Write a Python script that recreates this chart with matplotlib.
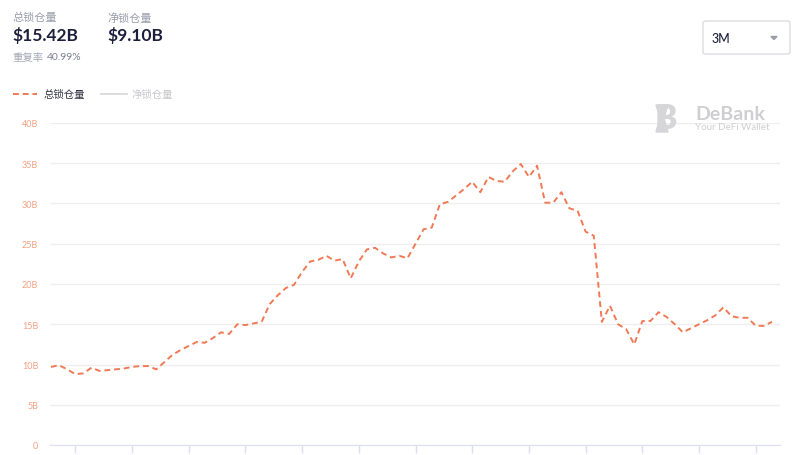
import matplotlib
matplotlib.use('Agg')

import matplotlib.pyplot as plt
from matplotlib.patches import FancyBboxPatch, Polygon

plt.rcParams['font.family'] = ['Lato', 'Noto Sans CJK SC', 'DejaVu Sans']

# daily total locked value, billions (3M window)
tvl = [9.7, 9.9, 9.4, 8.8, 8.9, 9.6, 9.2, 9.3, 9.4, 9.5,
       9.7, 9.8, 9.8, 9.4, 10.3, 11.2, 11.8, 12.3, 12.8, 12.7,
       13.3, 14.0, 13.8, 15.0, 14.9, 15.1, 15.3, 17.5, 18.6, 19.5,
       19.9, 21.5, 22.8, 23.0, 23.5, 22.9, 23.1, 20.7, 22.8, 24.3,
       24.5, 23.8, 23.3, 23.5, 23.2, 25.0, 26.8, 27.0, 29.9, 30.2,
       31.0, 31.8, 32.7, 31.4, 33.3, 32.8, 32.7, 34.0, 34.9, 33.3,
       34.7, 30.1, 30.1, 31.4, 29.4, 29.1, 26.5, 26.0, 15.3, 17.3,
       15.0, 14.4, 12.5, 15.4, 15.4, 16.5, 15.9, 15.0, 14.0, 14.5,
       15.0, 15.5, 16.1, 17.1, 16.0, 15.8, 15.8, 14.8, 14.8, 15.3]
days = list(range(len(tvl)))
week_ticks = list(range(3, 90, 7))
y_ticks = [0, 5, 10, 15, 20, 25, 30, 35, 40]
y_labels = ['0', '5B', '10B', '15B', '20B', '25B', '30B', '35B', '40B']

total_label = '总锁仓量'
net_label = '净锁仓量'
total_value = '$15.42B'
net_value = '$9.10B'
dup_label = '重复率'
dup_value = '40.99%'

orange = '#f07a55'
fig = plt.figure(figsize=(8, 4.56), dpi=100)
W, H = 800, 456

def fx(px):
    return px / W

def fy(py):
    return 1 - py / H

ax = fig.add_axes([fx(50), fy(446), fx(780) - fx(50), fy(124) - fy(446)])
ax.plot(days, tvl, color=orange, lw=1.4, ls=(0, (3, 2)), clip_on=False)
ax.set_xlim(-0.12, 89.99)
ax.set_ylim(0, 40)
ax.set_yticks(y_ticks)
ax.set_yticklabels(y_labels, fontsize=6.5, color='#f2a184')
ax.tick_params(axis='y', length=0, pad=8.5)
ax.set_xticks(week_ticks)
ax.set_xticklabels([])
ax.tick_params(axis='x', length=6, color='#dcdff2', width=1, direction='out')
for s in ['top', 'right', 'left']:
    ax.spines[s].set_visible(False)
ax.spines['bottom'].set_color('#dcdff2')
ax.grid(axis='y', color='#eeeeee', lw=1)
ax.set_axisbelow(True)

# header
fig.text(fx(12), fy(18), total_label, fontsize=8, color='#9a9cab', va='center')
fig.text(fx(12), fy(36), total_value, fontsize=12.5, color='#1b1f3b', weight='bold', va='center')
fig.text(fx(107), fy(18), net_label, fontsize=8, color='#9a9cab', va='center')
fig.text(fx(107), fy(36), net_value, fontsize=12.5, color='#1b1f3b', weight='bold', va='center')
fig.text(fx(12), fy(58), dup_label, fontsize=7.5, color='#a5a7b5', va='center')
fig.text(fx(47), fy(58), dup_value, fontsize=7.5, color='#7c7f90', va='center')

# legend
fig.add_artist(plt.Line2D([fx(13), fx(37)], [fy(95), fy(95)], color=orange, lw=1.4, ls=(0, (3, 2))))
fig.text(fx(44), fy(95), total_label, fontsize=7.5, color='#333344', va='center')
fig.add_artist(plt.Line2D([fx(101), fx(127)], [fy(95), fy(95)], color='#d5d5d8', lw=1.2))
fig.text(fx(132), fy(95), net_label, fontsize=7.5, color='#c8c8cc', va='center')

# range dropdown
box = FancyBboxPatch((fx(703), fy(55)), fx(87), fy(22) - fy(55),
                     boxstyle='round,pad=0,rounding_size=0.004',
                     transform=fig.transFigure, facecolor='white',
                     edgecolor='#dcdde3', lw=1)
fig.add_artist(box)
fig.text(fx(712), fy(39), '3M', fontsize=9, color='#1b1f3b', va='center', weight='medium')
fig.add_artist(Polygon([[fx(771), fy(37.5)], [fx(777), fy(37.5)], [fx(774), fy(40.5)]],
                       closed=True, transform=fig.transFigure, color='#9a9ca8'))

# watermark
fig.text(fx(655), fy(119), 'B', fontsize=24, color='#d6d6d8', weight='heavy', va='center')
fig.add_artist(Polygon([[fx(656), fy(106)], [fx(668), fy(106)], [fx(664), fy(119)], [fx(668), fy(133)], [fx(656), fy(133)], [fx(660), fy(119)]],
                       closed=True, transform=fig.transFigure, color='#d6d6d8'))
fig.text(fx(695), fy(114), 'DeBank', fontsize=14, color='#cfcfd2', weight='bold', va='center')
fig.text(fx(695), fy(128), 'Your DeFi Wallet', fontsize=7, color='#cfcfd2', va='center')

fig.savefig('out.png', dpi=100)
